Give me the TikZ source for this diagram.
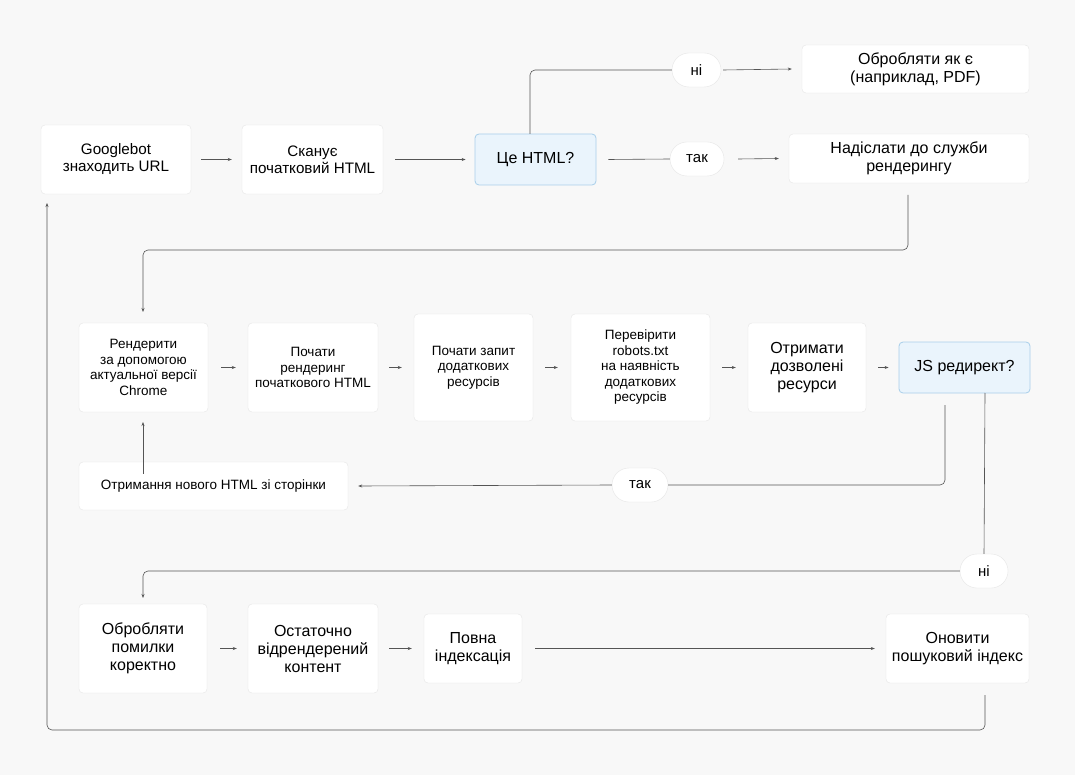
\documentclass[tikz,border=0pt]{standalone}
\usepackage{fontspec}
\setmainfont{Liberation Sans}
\usetikzlibrary{arrows.meta}
\definecolor{bg}{HTML}{F8F8F8}
\definecolor{bd}{HTML}{E6E6E6}
\definecolor{bfill}{HTML}{EAF4FC}
\definecolor{bbd}{HTML}{A9CFEA}
\definecolor{ln}{HTML}{555555}
\begin{document}
\begin{tikzpicture}[x=1pt,y=-1pt,
  box/.style={draw=bd,fill=white,rounded corners=4pt,align=center,font=\fontsize{15.2}{17}\selectfont,inner sep=0pt},
  bbox/.style={box,font=\fontsize{16}{18}\selectfont},
  sbox/.style={box,font=\fontsize{13.5}{15.5}\selectfont},
  blue/.style={bbox,draw=bbd,fill=bfill,line width=0.8pt},
  pill/.style={draw=bd,fill=white,rounded corners=17pt,font=\fontsize{15}{17}\selectfont,inner sep=0pt},
  ar/.style={draw=ln,line width=0.6pt,-{Stealth[length=4pt,width=3pt]}},
  li/.style={draw=ln,line width=0.6pt,rounded corners=5pt}]
\fill[bg] (0,0) rectangle (1075,775);
\useasboundingbox (0,0) rectangle (1075,775);
\newcommand\bx[6]{\node[#1,minimum width=#4-#3,minimum height=#6-#5] (#2) at ({(#3+#4)/2},{(#5+#6)/2})}
\bx{box}{g}{41}{191}{125}{194} {Googlebot\\знаходить URL};
\bx{box}{scan}{242}{383}{125}{194} {Сканує\\початковий HTML};
\bx{blue}{html}{475}{596}{134}{185} {Це HTML?};
\bx{bbox}{pdf}{802}{1029}{45}{93} {Обробляти як є\\(наприклад, PDF)};
\bx{bbox}{send}{789}{1029}{134}{183} {Надіслати до служби\\рендерингу};
\bx{pill}{ni1}{672}{721}{53}{87} {ні};
\bx{pill}{tak1}{670}{724}{142}{176} {так};
\bx{sbox}{render}{79}{208}{323}{412} {Рендерити\\за допомогою\\актуальної версії\\Chrome};
\bx{sbox}{start}{248}{378}{323}{412} {Почати\\рендеринг\\початкового HTML};
\bx{sbox}{req}{414}{533}{314}{421} {Почати запит\\додаткових\\ресурсів};
\bx{sbox}{robots}{571}{710}{314}{421} {Перевірити\\robots.txt\\на наявність\\додаткових\\ресурсів};
\bx{bbox}{get}{748}{866}{323}{412} {Отримати\\дозволені\\ресурси};
\bx{blue}{js}{899}{1030}{342}{393} {JS редирект?};
\bx{sbox}{newhtml}{79}{348}{462}{510} {Отримання нового HTML зі сторінки};
\bx{pill}{tak2}{612}{668}{468}{502} {так};
\bx{pill}{ni2}{960}{1008}{554}{588} {ні};
\bx{bbox}{err}{79}{207}{604}{693} {Обробляти\\помилки\\коректно};
\bx{bbox}{final}{248}{378}{604}{693} {Остаточно\\відрендерений\\контент};
\bx{bbox}{full}{424}{522}{614}{683} {Повна\\індексація};
\bx{bbox}{upd}{886}{1029}{614}{683} {Оновити\\пошуковий індекс};
\coordinate (c1) at (530,134);
\coordinate (c2) at (908,195);
\coordinate (c3) at (945,405);
\coordinate (c4) at (985,393);
\coordinate (c5) at (985,695);
\draw[ar] ([xshift=10pt]g.east) -- ([xshift=-10pt]scan.west);
\draw[ar] ([xshift=12pt]scan.east) -- ([xshift=-9pt]html.west);
\draw[li] ([xshift=12pt]html.east) -- (tak1.west);
\draw[ar] ([xshift=14pt]tak1.east) -- ([xshift=-10pt]send.west);
\draw[li] (c1) -- (c1|-ni1) -- (ni1.west);
\draw[ar] ([xshift=2pt]ni1.east) -- ([xshift=-10pt]pdf.west);
\draw[li,-{Stealth[length=4pt,width=3pt]}] (c2) -- (908,250) -- (143,250) -- (143,312);
\draw[ar] ([xshift=13pt]render.east) -- ([xshift=-12pt]start.west);
\draw[ar] ([xshift=11pt]start.east) -- ([xshift=-12pt]req.west);
\draw[ar] ([xshift=12pt]req.east) -- ([xshift=-13pt]robots.west);
\draw[ar] ([xshift=12pt]robots.east) -- ([xshift=-12pt]get.west);
\draw[ar] ([xshift=12pt]get.east) -- ([xshift=-10pt]js.west);
\draw[li] (c3) -- (945,485) -- (tak2.east);
\draw[ar] (tak2.west) -- ([xshift=10pt]newhtml.east);
\draw[ar] ([yshift=-12pt]newhtml.north-|143,0) -- (143,422);
\draw[li] (c4) -- (ni2.north);
\draw[li,-{Stealth[length=4pt,width=3pt]}] (ni2.west) -- (143,571) -- (143,598);
\draw[ar] ([xshift=13pt]err.east) -- ([xshift=-11pt]final.west);
\draw[ar] ([xshift=11pt]final.east) -- ([xshift=-12pt]full.west);
\draw[ar] ([xshift=13pt]full.east) -- ([xshift=-11pt]upd.west);
\draw[li,-{Stealth[length=4pt,width=3pt]}] (c5) -- (985,730) -- (47,730) -- (47,203);
\end{tikzpicture}
\end{document}
